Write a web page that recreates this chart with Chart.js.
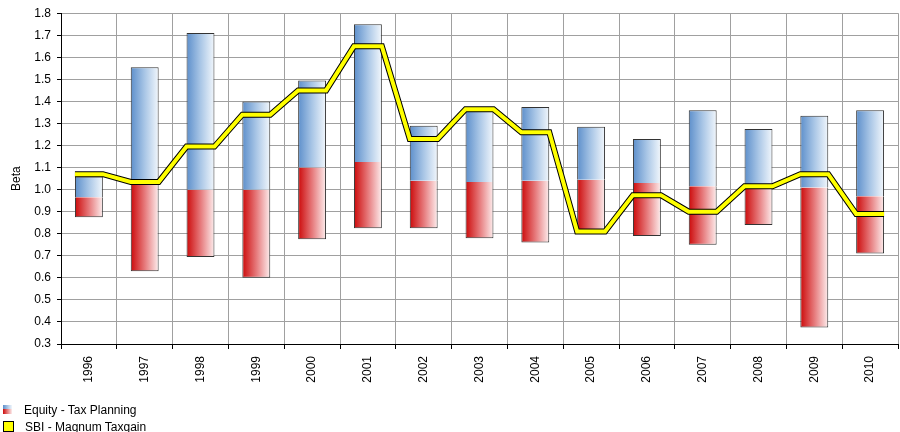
<!DOCTYPE html>
<html>
<head>
<meta charset="utf-8">
<script src="https://cdn.jsdelivr.net/npm/chart.js@4"></script>
<style>
  html, body { margin: 0; padding: 0; background: #fff; overflow: hidden; }
  #wrap { position: relative; width: 900px; height: 432px; }
  #leyenda { position: absolute; left: 3px; top: 403px; font: 12px "Liberation Sans", Arial, sans-serif; color: #000; }
  .item { height: 17px; line-height: 14px; white-space: nowrap; }
  .icono { display: inline-block; vertical-align: top; margin-top: 2px; margin-right: 12px; }
  .ic-rango { width: 9px; height: 9px; background: linear-gradient(to right, #5d8fcb, #f2f7fc); position: relative; }
  .ic-rango::after { content: ""; position: absolute; left: 0; right: 0; bottom: 0; height: 5px; background: linear-gradient(to right, #cc0a0a, #fdeeee); }
  .ic-fondo { width: 9px; height: 9px; background: #ffff00; border: 1px solid #000; margin-top: 1px; margin-right: 11px; }
</style>
</head>
<body>
<div id="wrap">
  <canvas id="grafico" width="900" height="432"></canvas>
  <div id="leyenda">
    <div class="item"><span class="icono ic-rango"></span>Equity - Tax Planning</div>
    <div class="item"><span class="icono ic-fondo"></span>SBI - Magnum Taxgain</div>
  </div>
</div>
<script>
// Beta por año: rango de la categoría (mínimo, mediana, máximo) y beta del fondo
const anios = ['1996', '1997', '1998', '1999', '2000', '2001', '2002', '2003', '2004', '2005', '2006', '2007', '2008', '2009', '2010'];
const betaMin = [0.875, 0.63, 0.695, 0.6, 0.775, 0.825, 0.825, 0.78, 0.76, 0.815, 0.79, 0.75, 0.84, 0.375, 0.71];
const betaMediana = [0.965, 1.045, 1.0, 1.0, 1.1, 1.125, 1.04, 1.035, 1.04, 1.045, 1.03, 1.015, 1.025, 1.01, 0.97];
const betaMax = [1.06, 1.555, 1.71, 1.4, 1.495, 1.75, 1.29, 1.36, 1.375, 1.285, 1.23, 1.36, 1.275, 1.335, 1.36];
const betaFondo = [1.07, 1.035, 1.195, 1.34, 1.45, 1.65, 1.23, 1.365, 1.26, 0.81, 0.975, 0.9, 1.015, 1.07, 0.89];
const ticksY = [0.3, 0.4, 0.5, 0.6, 0.7, 0.8, 0.9, 1.0, 1.1, 1.2, 1.3, 1.4, 1.5, 1.6, 1.7, 1.8];

const ANCHO_BARRA = 0.5;
const fuente = { family: '"Liberation Sans", Arial, sans-serif', size: 12 };

// degradado horizontal por barra, calculado con la escala x
function degradado(colores) {
  return function (ctx) {
    const chart = ctx.chart;
    const x = chart.scales.x;
    if (!chart.chartArea || ctx.dataIndex === undefined) return colores[0];
    const centro = x.getPixelForValue(ctx.dataIndex);
    const mitad = (x.width / anios.length) * ANCHO_BARRA / 2;
    const g = chart.ctx.createLinearGradient(centro - mitad, 0, centro + mitad, 0);
    g.addColorStop(0, colores[0]);
    g.addColorStop(0.5, colores[1]);
    g.addColorStop(1, colores[2]);
    return g;
  };
}

// la línea del fondo: tramo horizontal sobre el ancho de cada barra
const puntosFondo = [];
betaFondo.forEach((v, i) => {
  puntosFondo.push({ x: i - ANCHO_BARRA / 2, y: v });
  puntosFondo.push({ x: i + ANCHO_BARRA / 2, y: v });
});

new Chart(document.getElementById('grafico'), {
  type: 'bar',
  data: {
    labels: anios,
    datasets: [
      {
        label: 'SBI - Magnum Taxgain',
        type: 'line',
        xAxisID: 'xl',
        data: puntosFondo,
        borderColor: '#ffff00',
        borderWidth: 4,
        borderJoinStyle: 'miter',
        pointRadius: 0,
        tension: 0,
        order: 0
      },
      {
        label: 'borde',
        type: 'line',
        xAxisID: 'xl',
        data: puntosFondo,
        borderColor: '#000000',
        borderWidth: 6,
        borderJoinStyle: 'miter',
        pointRadius: 0,
        tension: 0,
        order: 1
      },
      {
        label: 'Equity - Tax Planning',
        data: anios.map((a, i) => [betaMediana[i], betaMax[i]]),
        backgroundColor: degradado(['#5d8fcb', '#a9c6e6', '#f2f7fc']),
        borderColor: '#333333',
        borderWidth: 1,
        borderSkipped: 'bottom',
        grouped: false,
        barPercentage: ANCHO_BARRA,
        categoryPercentage: 1,
        order: 2
      },
      {
        label: 'Equity - Tax Planning (bajo)',
        data: anios.map((a, i) => [betaMin[i], betaMediana[i]]),
        backgroundColor: degradado(['#cc0a0a', '#e6797b', '#fdeeee']),
        borderColor: '#333333',
        borderWidth: 1,
        borderSkipped: 'top',
        grouped: false,
        barPercentage: ANCHO_BARRA,
        categoryPercentage: 1,
        order: 3
      }
    ]
  },
  options: {
    responsive: false,
    animation: false,
    layout: { padding: { top: 10, right: 2, left: 9, bottom: 0 } },
    plugins: {
      legend: { display: false },
      tooltip: { enabled: false }
    },
    scales: {
      x: {
        type: 'category',
        offset: true,
        grid: { color: '#a0a0a0', lineWidth: 1, offset: true, tickLength: 5, tickColor: '#000' },
        border: { color: '#000', width: 1 },
        ticks: { color: '#000', font: fuente, minRotation: 90, maxRotation: 90, padding: 7, autoSkip: false },
        afterFit: s => { s.height = 88; }
      },
      xl: {
        type: 'linear',
        display: false,
        offset: false,
        grid: { offset: false },
        min: -0.5,
        max: anios.length - 0.5
      },
      y: {
        min: 0.3,
        max: 1.8,
        afterBuildTicks: s => { s.ticks = ticksY.map(v => ({ value: v })); },
        grid: { color: '#a0a0a0', lineWidth: 1, tickLength: 4, tickColor: '#000' },
        border: { color: '#000', width: 1 },
        ticks: { color: '#000', font: fuente, padding: 6, callback: v => v.toFixed(1) },
        title: { display: true, text: 'Beta', color: '#000', font: fuente, padding: 0 },
        afterFit: s => { s.width = 52; }
      }
    }
  }
});
</script>
</body>
</html>
